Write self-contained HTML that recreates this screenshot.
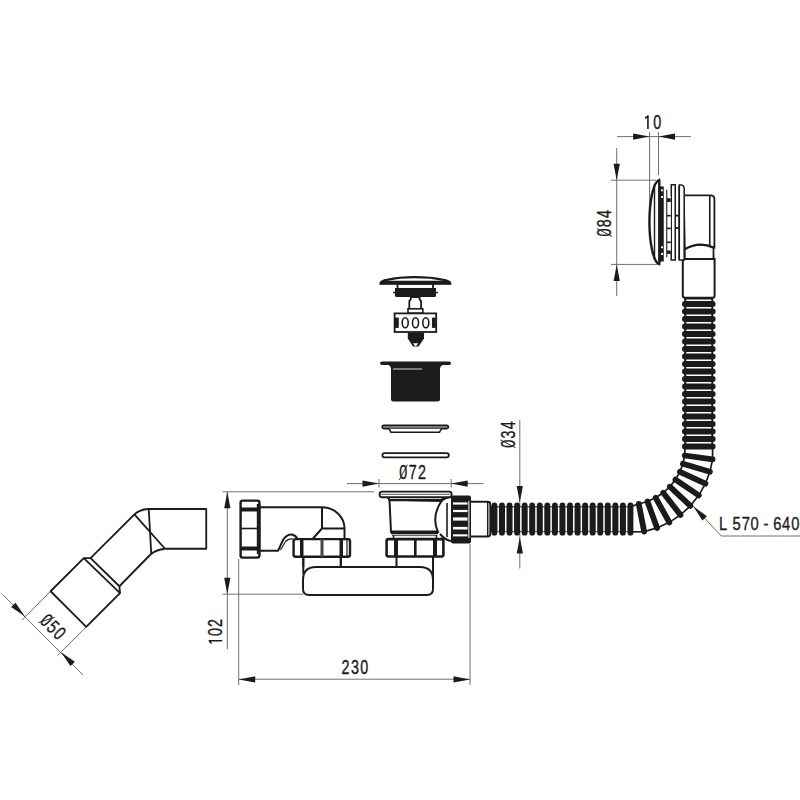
<!DOCTYPE html>
<html><head><meta charset="utf-8"><style>
html,body{margin:0;padding:0;background:#fff;}
svg{display:block;font-family:"Liberation Sans",sans-serif;}
</style></head><body>
<svg width="800" height="800" viewBox="0 0 800 800">
<rect width="800" height="800" fill="#fff"/>
<line x1="617.00" y1="136.60" x2="691.00" y2="136.60" stroke="#707070" stroke-width="1"/>
<polygon points="649.60,136.60 633.10,139.70 633.10,133.50" fill="#1b1b1b"/>
<polygon points="658.50,136.60 675.00,133.50 675.00,139.70" fill="#1b1b1b"/>
<line x1="649.60" y1="132.00" x2="649.60" y2="208.00" stroke="#707070" stroke-width="1"/>
<line x1="658.50" y1="132.00" x2="658.50" y2="175.00" stroke="#707070" stroke-width="1"/>
<g transform="translate(652.60,122.20) rotate(0)"><text transform="scale(0.74,1)" x="-11.81 1.03" y="6.84" font-size="19.4" fill="#1b1b1b" stroke="#1b1b1b" stroke-width="0.35" style="white-space:pre"> 0</text><path d="M-4.65,6.84 V-6.54 M-4.05,-6.44 L-7.45,-3.94" stroke="#1b1b1b" stroke-width="1.6" fill="none"/></g>
<line x1="616.70" y1="148.00" x2="616.70" y2="296.00" stroke="#707070" stroke-width="1"/>
<polygon points="616.70,180.20 613.60,163.70 619.80,163.70" fill="#1b1b1b"/>
<polygon points="616.70,264.40 619.80,280.90 613.60,280.90" fill="#1b1b1b"/>
<line x1="611.00" y1="180.20" x2="656.00" y2="180.20" stroke="#707070" stroke-width="1"/>
<line x1="611.00" y1="264.40" x2="658.00" y2="264.40" stroke="#707070" stroke-width="1"/>
<g transform="translate(604.50,223.30) rotate(-90)"><text transform="scale(0.74,1)" x="-17.83 -5.39 7.04" y="6.84" font-size="19.4" fill="#1b1b1b" stroke="#1b1b1b" stroke-width="0.35" style="white-space:pre">084</text><line x1="-13.17" y1="7.64" x2="-5.23" y2="-7.64" stroke="#1b1b1b" stroke-width="0.9"/></g>
<line x1="519.80" y1="420.00" x2="519.80" y2="568.50" stroke="#707070" stroke-width="1"/>
<polygon points="519.80,502.50 516.70,486.00 522.90,486.00" fill="#1b1b1b"/>
<polygon points="519.80,537.00 522.90,553.50 516.70,553.50" fill="#1b1b1b"/>
<g transform="translate(508.00,434.50) rotate(-90)"><text transform="scale(0.74,1)" x="-18.03 -5.39 7.24" y="6.84" font-size="19.4" fill="#1b1b1b" stroke="#1b1b1b" stroke-width="0.35" style="white-space:pre">034</text><line x1="-13.32" y1="7.64" x2="-5.38" y2="-7.64" stroke="#1b1b1b" stroke-width="0.9"/></g>
<line x1="347.00" y1="483.60" x2="483.50" y2="483.60" stroke="#707070" stroke-width="1"/>
<polygon points="379.00,483.60 362.50,486.70 362.50,480.50" fill="#1b1b1b"/>
<polygon points="451.20,483.60 467.70,480.50 467.70,486.70" fill="#1b1b1b"/>
<line x1="379.00" y1="479.00" x2="379.00" y2="487.50" stroke="#707070" stroke-width="1"/>
<line x1="451.20" y1="479.00" x2="451.20" y2="487.50" stroke="#707070" stroke-width="1"/>
<g transform="translate(412.70,472.30) rotate(0)"><text transform="scale(0.74,1)" x="-18.03 -5.39 7.24" y="6.84" font-size="19.4" fill="#1b1b1b" stroke="#1b1b1b" stroke-width="0.35" style="white-space:pre">072</text><line x1="-13.32" y1="7.64" x2="-5.38" y2="-7.64" stroke="#1b1b1b" stroke-width="0.9"/></g>
<line x1="227.30" y1="491.80" x2="227.30" y2="649.30" stroke="#707070" stroke-width="1"/>
<polygon points="227.30,491.80 230.40,508.30 224.20,508.30" fill="#1b1b1b"/>
<polygon points="227.30,594.20 224.20,577.70 230.40,577.70" fill="#1b1b1b"/>
<line x1="222.60" y1="491.80" x2="374.00" y2="491.80" stroke="#707070" stroke-width="1"/>
<line x1="222.60" y1="594.20" x2="303.00" y2="594.20" stroke="#707070" stroke-width="1"/>
<g transform="translate(215.40,632.00) rotate(-90)"><text transform="scale(0.74,1)" x="-17.42 -5.39 6.63" y="6.84" font-size="19.4" fill="#1b1b1b" stroke="#1b1b1b" stroke-width="0.35" style="white-space:pre"> 02</text><path d="M-8.80,6.84 V-6.54 M-8.20,-6.44 L-11.60,-3.94" stroke="#1b1b1b" stroke-width="1.6" fill="none"/></g>
<line x1="238.70" y1="679.20" x2="470.00" y2="679.20" stroke="#707070" stroke-width="1"/>
<polygon points="238.70,679.40 255.20,676.30 255.20,682.50" fill="#1b1b1b"/>
<polygon points="470.00,679.40 453.50,682.50 453.50,676.30" fill="#1b1b1b"/>
<line x1="238.70" y1="559.00" x2="238.70" y2="685.00" stroke="#707070" stroke-width="1"/>
<line x1="470.00" y1="544.00" x2="470.00" y2="685.00" stroke="#707070" stroke-width="1"/>
<g transform="translate(354.90,667.10) rotate(0)"><text transform="scale(0.74,1)" x="-18.03 -5.39 7.24" y="6.84" font-size="19.4" fill="#1b1b1b" stroke="#1b1b1b" stroke-width="0.35" style="white-space:pre">230</text></g>
<line x1="2.50" y1="594.40" x2="83.10" y2="675.00" stroke="#707070" stroke-width="1"/>
<polygon points="25.00,616.50 11.14,607.02 15.52,602.64" fill="#1b1b1b"/>
<polygon points="61.00,652.20 74.86,661.68 70.48,666.06" fill="#1b1b1b"/>
<line x1="21.90" y1="620.00" x2="50.60" y2="591.30" stroke="#707070" stroke-width="1"/>
<line x1="57.50" y1="655.60" x2="86.30" y2="626.90" stroke="#707070" stroke-width="1"/>
<g transform="translate(53.20,626.60) rotate(45)"><text transform="scale(0.74,1)" x="-18.03 -5.39 7.24" y="6.84" font-size="19.4" fill="#1b1b1b" stroke="#1b1b1b" stroke-width="0.35" style="white-space:pre">050</text><line x1="-13.32" y1="7.64" x2="-5.38" y2="-7.64" stroke="#1b1b1b" stroke-width="0.9"/></g>
<line x1="721.30" y1="536.00" x2="800.00" y2="536.00" stroke="#707070" stroke-width="1"/>
<line x1="721.30" y1="536.00" x2="693.30" y2="506.30" stroke="#707070" stroke-width="1"/>
<polygon points="693.30,506.30 706.87,516.18 702.36,520.43" fill="#1b1b1b"/>
<text transform="scale(0.84,1)" x="855.97 872.10 882.99 893.35 908.94 920.49 930.97 941.86" y="530" font-size="17.5" fill="#1b1b1b" stroke="#1b1b1b" stroke-width="0.35">L570-640</text>
<path d="M148,509 H206.25 V548.75 H164.4" stroke="#1b1b1b" stroke-width="1.8" fill="none" stroke-linejoin="round"/>
<path d="M148,509 Q140,509.5 134.4,514.4 L90.6,558.1" stroke="#1b1b1b" stroke-width="1.8" fill="none" stroke-linejoin="round"/>
<path d="M164.4,549 Q157,549.5 151.25,553.75 L119.4,586.25" stroke="#1b1b1b" stroke-width="1.8" fill="none" stroke-linejoin="round"/>
<path d="M148.75,509 L151.25,553.75 M134.4,514.4 L165,548.75" stroke="#1b1b1b" stroke-width="1.8" fill="none" stroke-linejoin="round"/>
<path d="M50.6,591.25 L83.75,558.1 L90.6,558.1 L119.4,586.25 L120,593.1 L86.25,626.9 Z" stroke="#1b1b1b" stroke-width="1.8" fill="none" stroke-linejoin="round"/>
<path d="M83.75,558.1 L120,593.1" stroke="#1b1b1b" stroke-width="1.8" fill="none" stroke-linejoin="round"/>
<path d="M260,507.2 H322 A22.5,21.3 0 0 1 344.5,528.5 V539" stroke="#1b1b1b" stroke-width="2" fill="none" stroke-linejoin="round"/>
<path d="M322,507.2 V528.5 H344.5 M321.5,529 L313,538.5" stroke="#1b1b1b" stroke-width="2" fill="none" stroke-linejoin="round"/>
<path d="M260,550.8 H278 L283,540 Q287,534 292,534.5 Q296,535.5 297.5,539" stroke="#1b1b1b" stroke-width="2" fill="none" stroke-linejoin="round"/>
<path d="M280.5,550 L285.5,541.5 Q288.5,538 293,539" stroke="#1b1b1b" stroke-width="1.2" fill="none"/>
<rect x="240.6" y="500.6" width="18.8" height="57" rx="2" fill="white" stroke="#1b1b1b" stroke-width="2.4"/>
<rect x="240" y="507.5" width="19" height="4" fill="#1b1b1b"/>
<rect x="240" y="546.5" width="19" height="4" fill="#1b1b1b"/>
<line x1="240" y1="528.5" x2="259" y2="528.5" stroke="#1b1b1b" stroke-width="1.6"/>
<rect x="256.8" y="504" width="3.6" height="50" fill="#1b1b1b"/>
<rect x="293.6" y="539.1" width="56.4" height="17.6" rx="2" fill="white" stroke="#1b1b1b" stroke-width="2.4"/>
<rect x="300" y="539" width="3.5" height="18" fill="#1b1b1b"/>
<rect x="320.5" y="539" width="3" height="18" fill="#444"/>
<rect x="339.5" y="539" width="3.5" height="18" fill="#1b1b1b"/>
<line x1="347" y1="539" x2="347" y2="557" stroke="#1b1b1b" stroke-width="1.2"/>
<line x1="303.30" y1="557.00" x2="303.30" y2="567.00" stroke="#1b1b1b" stroke-width="2"/>
<line x1="340.80" y1="557.00" x2="340.80" y2="567.00" stroke="#1b1b1b" stroke-width="2"/>
<path d="M316,567 H420 Q433,567 433,580 V589 Q433,595 427,595 H309 Q303,595 303,589 V580 Q303,567 316,567 Z" fill="white" stroke="#1b1b1b" stroke-width="2"/>
<line x1="303.30" y1="557.00" x2="303.30" y2="574.00" stroke="#1b1b1b" stroke-width="2"/>
<line x1="340.80" y1="557.00" x2="340.80" y2="567.00" stroke="#1b1b1b" stroke-width="2"/>
<line x1="396.50" y1="557.00" x2="396.50" y2="567.00" stroke="#1b1b1b" stroke-width="2"/>
<line x1="433.00" y1="557.00" x2="433.00" y2="580.00" stroke="#1b1b1b" stroke-width="2"/>
<rect x="386.6" y="539.1" width="56.8" height="17.4" rx="2" fill="white" stroke="#1b1b1b" stroke-width="2.6"/>
<rect x="394" y="539" width="4" height="18" fill="#1b1b1b"/>
<rect x="414" y="539" width="2.6" height="18" fill="#1b1b1b"/>
<rect x="433" y="539" width="4" height="18" fill="#1b1b1b"/>
<path d="M389.5,500 L391,532 H438 Q431,517 441.5,501 Z" fill="white" stroke="#1b1b1b" stroke-width="2"/>
<rect x="391" y="530.5" width="47" height="3.8" fill="#1b1b1b"/>
<line x1="392.00" y1="535.60" x2="437.00" y2="535.60" stroke="#555" stroke-width="1"/>
<line x1="393.50" y1="535.00" x2="393.50" y2="539.00" stroke="#1b1b1b" stroke-width="1.5"/>
<line x1="436.50" y1="535.00" x2="436.50" y2="539.00" stroke="#1b1b1b" stroke-width="1.5"/>
<path d="M387.5,497.5 Q389.5,498.5 389.5,501 M444,497.5 Q441.5,499 441.5,501" stroke="#1b1b1b" stroke-width="2" fill="none" stroke-linejoin="round"/>
<line x1="389.00" y1="499.80" x2="441.00" y2="499.80" stroke="#1b1b1b" stroke-width="1.5"/>
<path d="M441.5,501 Q445,497.5 451,497 M440,534 Q445,540 451,541" stroke="#1b1b1b" stroke-width="2" fill="none" stroke-linejoin="round"/>
<line x1="447.00" y1="503.00" x2="447.00" y2="537.00" stroke="#1b1b1b" stroke-width="1.6"/>
<rect x="379.6" y="491.6" width="72" height="5.6" rx="2.5" fill="white" stroke="#1b1b1b" stroke-width="1.9"/>
<line x1="381.00" y1="494.40" x2="450.00" y2="494.40" stroke="#777" stroke-width="1.2"/>
<rect x="451" y="495.5" width="20" height="48" rx="2" fill="#1b1b1b"/>
<rect x="453" y="502.4" width="14.5" height="2.2000000000000455" fill="white"/>
<rect x="453" y="509.9" width="14.5" height="2.2000000000000455" fill="white"/>
<rect x="453" y="517.4" width="14.5" height="3.2000000000000455" fill="white"/>
<rect x="453" y="526.9" width="14.5" height="2.6000000000000227" fill="white"/>
<rect x="453" y="534.3" width="14.5" height="2.1000000000000227" fill="white"/>
<rect x="468" y="501" width="1.6" height="37" fill="#aaa"/>
<path d="M471,501.7 H487.8 Q490.3,501.7 490.3,504.2 V534 Q490.3,536.5 487.8,536.5 H471" fill="white" stroke="#1b1b1b" stroke-width="1.9"/>
<line x1="487.70" y1="502.00" x2="487.70" y2="536.00" stroke="#1b1b1b" stroke-width="1.5"/>
<path d="M380.5,283.6 Q380.5,280.8 388,279.6 C402,276.3 428,276.3 442,279.6 Q450.3,280.8 450.3,283.6 Z" fill="white" stroke="#1b1b1b" stroke-width="2.2"/>
<path d="M380,284.2 Q380,281.5 384,280.8 H446.5 Q450.8,281.5 450.6,284.2 Z" fill="#1b1b1b"/>
<rect x="397.5" y="284" width="35.5" height="5" fill="white" stroke="#1b1b1b" stroke-width="1.8"/>
<path d="M395,288 H436 V295.5 Q436,297 434.5,297 H396.5 Q395,297 395,295.5 Z" fill="#1b1b1b"/>
<rect x="393" y="291.8" width="2.5" height="1.4" fill="#1b1b1b"/><rect x="435.5" y="291.8" width="2.5" height="1.4" fill="#1b1b1b"/>
<path d="M409.3,309 V301.2 L410.8,299.4 V297 H419.6 V299.4 L421.1,301.2 V309" fill="white" stroke="#1b1b1b" stroke-width="1.8"/>
<rect x="408" y="308.8" width="14.8" height="4.4" fill="white" stroke="#1b1b1b" stroke-width="1.6"/>
<rect x="394.6" y="313.4" width="41.6" height="18.6" fill="white" stroke="#1b1b1b" stroke-width="1.8"/>
<rect x="395" y="317.5" width="3.8" height="10.5" rx="1" fill="#1b1b1b"/>
<rect x="432" y="317.5" width="3.8" height="10.5" rx="1" fill="#1b1b1b"/>
<ellipse cx="405.2" cy="322.7" rx="3.0" ry="5.0" fill="white" stroke="#1b1b1b" stroke-width="1.6"/>
<ellipse cx="415.5" cy="322.7" rx="3.0" ry="5.0" fill="white" stroke="#1b1b1b" stroke-width="1.6"/>
<ellipse cx="425.8" cy="322.7" rx="3.0" ry="5.0" fill="white" stroke="#1b1b1b" stroke-width="1.6"/>
<path d="M407.8,332.5 H424 V338.5 L418.5,346.5 H413 L407.8,338.5 Z" fill="#1b1b1b"/>
<path d="M413,343.2 H418.3 L416,346 H415 Z" fill="white"/>
<path d="M382,361.5 H449 Q451,361.5 451,363.2 Q451,365 449,365 H442.5 Q440,366 440,369 V399 Q440,401.5 437.5,401.5 H393.5 Q391,401.5 391,399 V369 Q391,366 388.5,365 H382 Q380,365 380,363.2 Q380,361.5 382,361.5 Z" fill="#1b1b1b"/>
<line x1="393.00" y1="369.00" x2="422.00" y2="369.00" stroke="#bbb" stroke-width="1.2"/>
<rect x="382.2" y="425.3" width="66.2" height="3.4" rx="1.7" fill="#777" stroke="#1b1b1b" stroke-width="1.6"/>
<path d="M389,428.7 L391,432.3 H439.5 L441.5,428.7" fill="white" stroke="#1b1b1b" stroke-width="1.6"/>
<rect x="382.4" y="453.2" width="66.4" height="4.2" rx="2.1" fill="white" stroke="#1b1b1b" stroke-width="1.8"/>
<rect x="490.5" y="506.3" width="140" height="25.8" fill="#1b1b1b"/>
<rect x="491.50" y="502.6" width="5.8" height="33" rx="2.9" fill="#1b1b1b"/>
<rect x="499.06" y="502.6" width="5.8" height="33" rx="2.9" fill="#1b1b1b"/>
<rect x="506.62" y="502.6" width="5.8" height="33" rx="2.9" fill="#1b1b1b"/>
<rect x="514.18" y="502.6" width="5.8" height="33" rx="2.9" fill="#1b1b1b"/>
<rect x="521.74" y="502.6" width="5.8" height="33" rx="2.9" fill="#1b1b1b"/>
<rect x="529.30" y="502.6" width="5.8" height="33" rx="2.9" fill="#1b1b1b"/>
<rect x="536.86" y="502.6" width="5.8" height="33" rx="2.9" fill="#1b1b1b"/>
<rect x="544.42" y="502.6" width="5.8" height="33" rx="2.9" fill="#1b1b1b"/>
<rect x="551.98" y="502.6" width="5.8" height="33" rx="2.9" fill="#1b1b1b"/>
<rect x="559.54" y="502.6" width="5.8" height="33" rx="2.9" fill="#1b1b1b"/>
<rect x="567.10" y="502.6" width="5.8" height="33" rx="2.9" fill="#1b1b1b"/>
<rect x="574.66" y="502.6" width="5.8" height="33" rx="2.9" fill="#1b1b1b"/>
<rect x="582.22" y="502.6" width="5.8" height="33" rx="2.9" fill="#1b1b1b"/>
<rect x="589.78" y="502.6" width="5.8" height="33" rx="2.9" fill="#1b1b1b"/>
<rect x="597.34" y="502.6" width="5.8" height="33" rx="2.9" fill="#1b1b1b"/>
<rect x="604.90" y="502.6" width="5.8" height="33" rx="2.9" fill="#1b1b1b"/>
<rect x="612.46" y="502.6" width="5.8" height="33" rx="2.9" fill="#1b1b1b"/>
<rect x="620.02" y="502.6" width="5.8" height="33" rx="2.9" fill="#1b1b1b"/>
<rect x="627.58" y="502.6" width="5.8" height="33" rx="2.9" fill="#1b1b1b"/>
<rect x="497.43" y="507.3" width="1.5" height="24" fill="white"/>
<rect x="504.99" y="507.3" width="1.5" height="24" fill="white"/>
<rect x="512.55" y="507.3" width="1.5" height="24" fill="white"/>
<rect x="520.11" y="507.3" width="1.5" height="24" fill="white"/>
<rect x="527.67" y="507.3" width="1.5" height="24" fill="white"/>
<rect x="535.23" y="507.3" width="1.5" height="24" fill="white"/>
<rect x="542.79" y="507.3" width="1.5" height="24" fill="white"/>
<rect x="550.35" y="507.3" width="1.5" height="24" fill="white"/>
<rect x="557.91" y="507.3" width="1.5" height="24" fill="white"/>
<rect x="565.47" y="507.3" width="1.5" height="24" fill="white"/>
<rect x="573.03" y="507.3" width="1.5" height="24" fill="white"/>
<rect x="580.59" y="507.3" width="1.5" height="24" fill="white"/>
<rect x="588.15" y="507.3" width="1.5" height="24" fill="white"/>
<rect x="595.71" y="507.3" width="1.5" height="24" fill="white"/>
<rect x="603.27" y="507.3" width="1.5" height="24" fill="white"/>
<rect x="610.83" y="507.3" width="1.5" height="24" fill="white"/>
<rect x="618.39" y="507.3" width="1.5" height="24" fill="white"/>
<rect x="625.95" y="507.3" width="1.5" height="24" fill="white"/>
<rect x="684.2" y="298" width="29" height="149" fill="#1b1b1b"/>
<rect x="682" y="301.10" width="33.6" height="5.8" rx="2.9" fill="#1b1b1b"/>
<rect x="682" y="308.60" width="33.6" height="5.8" rx="2.9" fill="#1b1b1b"/>
<rect x="682" y="316.10" width="33.6" height="5.8" rx="2.9" fill="#1b1b1b"/>
<rect x="682" y="323.60" width="33.6" height="5.8" rx="2.9" fill="#1b1b1b"/>
<rect x="682" y="331.10" width="33.6" height="5.8" rx="2.9" fill="#1b1b1b"/>
<rect x="682" y="338.60" width="33.6" height="5.8" rx="2.9" fill="#1b1b1b"/>
<rect x="682" y="346.10" width="33.6" height="5.8" rx="2.9" fill="#1b1b1b"/>
<rect x="682" y="353.60" width="33.6" height="5.8" rx="2.9" fill="#1b1b1b"/>
<rect x="682" y="361.10" width="33.6" height="5.8" rx="2.9" fill="#1b1b1b"/>
<rect x="682" y="368.60" width="33.6" height="5.8" rx="2.9" fill="#1b1b1b"/>
<rect x="682" y="376.10" width="33.6" height="5.8" rx="2.9" fill="#1b1b1b"/>
<rect x="682" y="383.60" width="33.6" height="5.8" rx="2.9" fill="#1b1b1b"/>
<rect x="682" y="391.10" width="33.6" height="5.8" rx="2.9" fill="#1b1b1b"/>
<rect x="682" y="398.60" width="33.6" height="5.8" rx="2.9" fill="#1b1b1b"/>
<rect x="682" y="406.10" width="33.6" height="5.8" rx="2.9" fill="#1b1b1b"/>
<rect x="682" y="413.60" width="33.6" height="5.8" rx="2.9" fill="#1b1b1b"/>
<rect x="682" y="421.10" width="33.6" height="5.8" rx="2.9" fill="#1b1b1b"/>
<rect x="682" y="428.60" width="33.6" height="5.8" rx="2.9" fill="#1b1b1b"/>
<rect x="682" y="436.10" width="33.6" height="5.8" rx="2.9" fill="#1b1b1b"/>
<rect x="682" y="443.60" width="33.6" height="5.8" rx="2.9" fill="#1b1b1b"/>
<rect x="686.3" y="299.50" width="25" height="1.5" fill="white"/>
<rect x="686.3" y="307.00" width="25" height="1.5" fill="white"/>
<rect x="686.3" y="314.50" width="25" height="1.5" fill="white"/>
<rect x="686.3" y="322.00" width="25" height="1.5" fill="white"/>
<rect x="686.3" y="329.50" width="25" height="1.5" fill="white"/>
<rect x="686.3" y="337.00" width="25" height="1.5" fill="white"/>
<rect x="686.3" y="344.50" width="25" height="1.5" fill="white"/>
<rect x="686.3" y="352.00" width="25" height="1.5" fill="white"/>
<rect x="686.3" y="359.50" width="25" height="1.5" fill="white"/>
<rect x="686.3" y="367.00" width="25" height="1.5" fill="white"/>
<rect x="686.3" y="374.50" width="25" height="1.5" fill="white"/>
<rect x="686.3" y="382.00" width="25" height="1.5" fill="white"/>
<rect x="686.3" y="389.50" width="25" height="1.5" fill="white"/>
<rect x="686.3" y="397.00" width="25" height="1.5" fill="white"/>
<rect x="686.3" y="404.50" width="25" height="1.5" fill="white"/>
<rect x="686.3" y="412.00" width="25" height="1.5" fill="white"/>
<rect x="686.3" y="419.50" width="25" height="1.5" fill="white"/>
<rect x="686.3" y="427.00" width="25" height="1.5" fill="white"/>
<rect x="686.3" y="434.50" width="25" height="1.5" fill="white"/>
<rect x="686.3" y="442.00" width="25" height="1.5" fill="white"/>
<path d="M684.90,446.50 L684.74,455.50 L682.93,463.83 L679.91,471.80 L675.47,479.65 L669.85,486.71 L663.20,492.81 L655.68,497.79 L647.47,501.53 L638.77,503.94 L630.50,506.60" stroke="#1b1b1b" stroke-width="1.7" fill="none"/>
<path d="M712.60,446.50 L712.57,459.41 L709.87,471.81 L705.38,483.68 L698.77,495.37 L690.40,505.88 L680.50,514.95 L669.30,522.37 L657.08,527.94 L644.13,531.53 L630.50,531.80" stroke="#1b1b1b" stroke-width="1.7" fill="none"/>
<line x1="684.74" y1="455.50" x2="712.57" y2="459.41" stroke="#1b1b1b" stroke-width="5.8" stroke-linecap="round"/>
<line x1="682.93" y1="463.83" x2="709.87" y2="471.81" stroke="#1b1b1b" stroke-width="5.8" stroke-linecap="round"/>
<line x1="679.91" y1="471.80" x2="705.38" y2="483.68" stroke="#1b1b1b" stroke-width="5.8" stroke-linecap="round"/>
<line x1="675.47" y1="479.65" x2="698.77" y2="495.37" stroke="#1b1b1b" stroke-width="5.8" stroke-linecap="round"/>
<line x1="669.85" y1="486.71" x2="690.40" y2="505.88" stroke="#1b1b1b" stroke-width="5.8" stroke-linecap="round"/>
<line x1="663.20" y1="492.81" x2="680.50" y2="514.95" stroke="#1b1b1b" stroke-width="5.8" stroke-linecap="round"/>
<line x1="655.68" y1="497.79" x2="669.30" y2="522.37" stroke="#1b1b1b" stroke-width="5.8" stroke-linecap="round"/>
<line x1="647.47" y1="501.53" x2="657.08" y2="527.94" stroke="#1b1b1b" stroke-width="5.8" stroke-linecap="round"/>
<line x1="638.77" y1="503.94" x2="644.13" y2="531.53" stroke="#1b1b1b" stroke-width="5.8" stroke-linecap="round"/>
<path d="M682.8,259 H714.6 V295.5 Q714.6,297.8 712.3,297.8 H685.1 Q682.8,297.8 682.8,295.5 Z" fill="white" stroke="#1b1b1b" stroke-width="2"/>
<path d="M683.8,195.4 H710.7 Q714.4,195.4 714.4,199 V247.5 Q699,240.5 684.8,249 Z" fill="white" stroke="#1b1b1b" stroke-width="1.8"/>
<line x1="709.75" y1="196.00" x2="709.75" y2="246.00" stroke="#1b1b1b" stroke-width="1.6"/>
<path d="M684.8,249.5 Q699,241 713.5,248 V259 M684.8,249.5 V259" stroke="#1b1b1b" stroke-width="1.8" fill="none"/>
<path d="M679.25,260 V184.9 H681.3 Q684.2,185.3 684.2,189 V260 Z" fill="white" stroke="#1b1b1b" stroke-width="1.5"/>
<line x1="679.25" y1="186.00" x2="679.25" y2="259.50" stroke="#1b1b1b" stroke-width="1.6"/>
<rect x="671.25" y="184.8" width="4" height="75.2" fill="white" stroke="#1b1b1b" stroke-width="1.5"/>
<rect x="675.8" y="214.7" width="3" height="1.8" fill="#1b1b1b"/>
<rect x="675.8" y="227.1" width="3" height="1.8" fill="#1b1b1b"/>
<rect x="667" y="196" width="3.8" height="57" fill="white"/>
<rect x="666.6" y="198.3" width="4.2" height="3.6" fill="#1b1b1b"/>
<rect x="666.6" y="214.9" width="4.2" height="1.6" fill="#1b1b1b"/>
<rect x="666.6" y="227.6" width="4.2" height="1.6" fill="#1b1b1b"/>
<rect x="666.6" y="241.5" width="4.2" height="1.6" fill="#1b1b1b"/>
<rect x="666.6" y="250.5" width="4.2" height="3.4" fill="#1b1b1b"/>
<rect x="663.7" y="189.7" width="3.2" height="67.6" fill="white"/>
<line x1="666.75" y1="189.70" x2="666.75" y2="257.30" stroke="#1b1b1b" stroke-width="1.1"/>
<path d="M657.5,180.5 H660 V186.6 H663.75 V261.5 H660 V264 H657.5 Z" fill="#1b1b1b"/>
<rect x="661" y="189.4" width="1.9" height="1.9" fill="white"/>
<rect x="661" y="196.0" width="1.9" height="1.9" fill="white"/>
<rect x="661" y="246.3" width="1.9" height="1.9" fill="white"/>
<rect x="661" y="253.0" width="1.9" height="1.9" fill="white"/>
<path d="M659.3,179.8 A10.6,42.3 0 0 0 659.3,264.2 Z" fill="white" stroke="#1b1b1b" stroke-width="2.4" stroke-linejoin="round"/>
<line x1="654.50" y1="184.00" x2="654.50" y2="260.00" stroke="#1b1b1b" stroke-width="1.4"/>
</svg></body></html>
